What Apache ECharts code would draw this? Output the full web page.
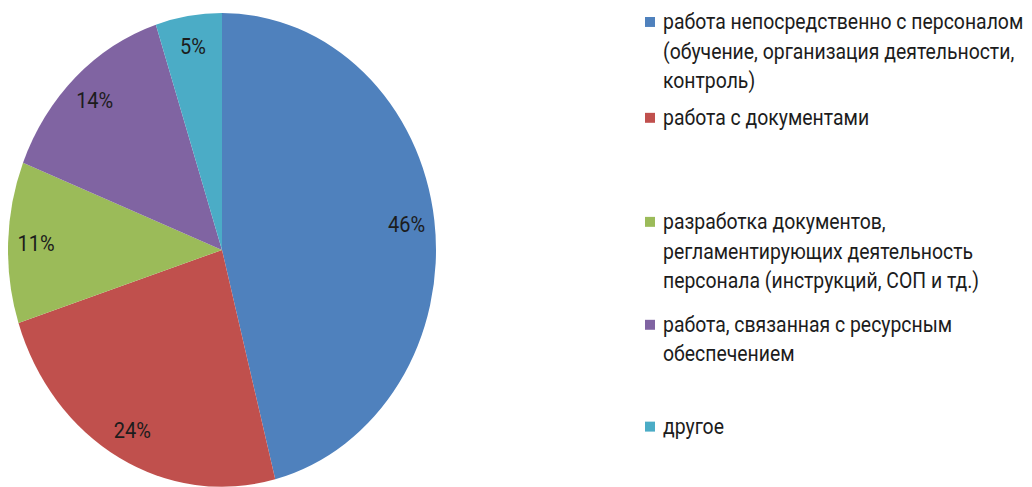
<!DOCTYPE html>
<html>
<head>
<meta charset="utf-8">
<script src="https://cdn.jsdelivr.net/npm/echarts@6/dist/echarts.min.js"></script>
<style>
  html, body { margin: 0; padding: 0; background: #fff; overflow: hidden; width: 1032px; height: 487px; }
  /* the chart is drawn on a slightly shorter canvas and stretched vertically into an oval pie */
  #chart { width: 1032px; height: 440px; transform: scaleY(1.1068); transform-origin: 0 0; }
</style>
</head>
<body>
<div id="chart"></div>
<script>
// Categories (legend text, with its line breaks)
const categories = [
  'работа непосредственно с персоналом\n(обучение, организация деятельности,\nконтроль)',
  'работа с документами',
  'разработка документов,\nрегламентирующих деятельность\nперсонала (инструкций, СОП и тд.)',
  'работа, связанная с ресурсным\nобеспечением',
  'другое'
];
// Share of each category, %
const values = [46, 24, 11, 14, 5];
const colors = ['#4F81BD', '#C0504D', '#9BBB59', '#8064A2', '#4BACC6'];

// vertical position of each legend entry
const legendTops = [6.6, 93.2, 187.2, 280.2, 372.2];

const textColor = '#1c1c1c';
const font = 'Roboto';
const legendLine = 26.5;
const markerW = 10;
const markerH = 9;

const pieData = categories.map((name, i) => ({
  name: name,
  value: values[i],
  itemStyle: { color: colors[i] }
}));

// Each entry is its own legend so the entries keep even spacing.
// The marker box spans the whole text block, with the filled square
// drawn level with the first text line.
const legends = categories.map((name, i) => {
  const lines = name.split('\n').length;
  const boxH = lines * legendLine;
  const sqTop = (legendLine - markerH) / 2;
  const icon = 'path://M0,0 M0,' + sqTop + ' H' + markerW + ' V' + (sqTop + markerH) +
               ' H0 Z M' + markerW + ',' + boxH;
  return {
    data: [name],
    orient: 'vertical',
    left: 645,
    top: legendTops[i],
    padding: 0,
    itemWidth: markerW,
    itemHeight: boxH,
    itemGap: 0,
    icon: icon,
    itemStyle: { borderWidth: 0 },
    selectedMode: false,
    textStyle: {
      fontFamily: font,
      fontSize: 19.4,
      color: textColor,
      lineHeight: legendLine,
      padding: [0, 0, 0, 3]
    }
  };
});

const chart = echarts.init(document.getElementById('chart'), null, { renderer: 'svg' });
chart.setOption({
  animation: false,
  backgroundColor: '#fff',
  legend: legends,
  series: [
    {
      type: 'pie',
      center: [222, 225.8],
      radius: [0, 214],
      startAngle: 90,
      clockwise: true,
      silent: true,
      itemStyle: { borderWidth: 0 },
      label: { show: false },
      labelLine: { show: false },
      data: pieData
    },
    {
      // transparent ring carrying the percentage labels near the outer edge
      type: 'pie',
      center: [222, 225.8],
      radius: [152, 214],
      startAngle: 90,
      clockwise: true,
      silent: true,
      legendHoverLink: false,
      itemStyle: { color: 'rgba(0,0,0,0)', borderWidth: 0 },
      label: {
        show: true,
        position: 'inside',
        formatter: '{c}%',
        fontFamily: font,
        fontSize: 20,
        color: textColor
      },
      labelLine: { show: false },
      data: categories.map((name, i) => ({ name: name, value: values[i] }))
    }
  ]
});
</script>
</body>
</html>
